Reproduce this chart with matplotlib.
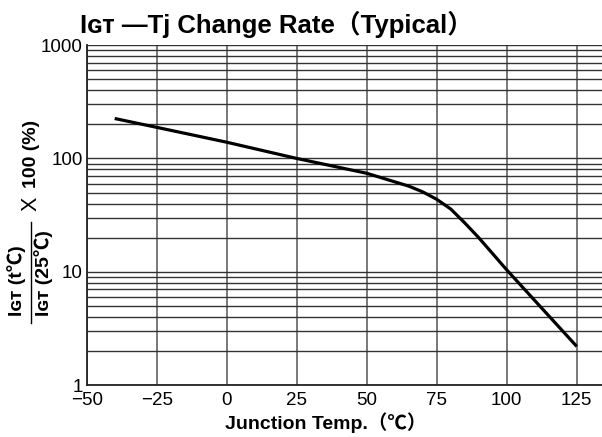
import matplotlib
matplotlib.use("Agg")
import matplotlib.pyplot as plt
from matplotlib.ticker import LogLocator, NullFormatter

plt.rcParams['font.family'] = ['Noto Sans CJK JP', 'DejaVu Sans']
LAT = ['Liberation Sans', 'Noto Sans CJK JP', 'DejaVu Sans']

temps = [-40, -25, 0, 25, 50, 65, 70, 75, 80, 85, 90, 100, 125]
rate = [225, 188, 139, 100, 74, 57, 50.7, 43.6, 35.8, 27, 20, 10.4, 2.2]
xticks = [-50, -25, 0, 25, 50, 75, 100, 125]
xtick_labels = ["−50", "−25", "0", "25", "50", "75", "100", "125"]
yticks = [1, 10, 100, 1000]
ytick_labels = ["1", "10", "100", "1000"]

fig = plt.figure(figsize=(6.02, 4.37), dpi=100)
ax = fig.add_axes([0.144, 0.1183, 0.856, 0.7787])
ax.set_yscale('log')
ax.set_xlim(-50, 134)
ax.set_ylim(1, 1000)

ax.set_xticks(xticks)
ax.set_xticklabels(xtick_labels, family=LAT)
ax.set_yticks(yticks)
ax.set_yticklabels(ytick_labels, family=LAT)
ax.yaxis.set_minor_locator(LogLocator(base=10, subs=range(2, 10)))
ax.yaxis.set_minor_formatter(NullFormatter())
ax.tick_params(axis='both', which='both', length=0, labelsize=13.5)
ax.tick_params(axis='x', pad=5)
ax.tick_params(axis='y', pad=3)

ax.grid(True, which='major', axis='x', color='#555555', lw=1.1)
ax.grid(True, which='major', axis='y', color='#333333', lw=1.0)
ax.grid(True, which='minor', axis='y', color='#333333', lw=1.0)
ax.set_axisbelow(True)

for s in ['top', 'right']:
    ax.spines[s].set_visible(False)
for s in ['left', 'bottom']:
    ax.spines[s].set_color('#222222')
    ax.spines[s].set_linewidth(1.3)

ax.plot(temps, rate, color='black', lw=2.3, solid_capstyle='butt', zorder=3)

# title
fig.text(0.133, 0.925, "Iɢᴛ —Tj Change Rate（Typical）", fontsize=18.5,
         fontweight='bold', family=LAT, ha='left', va='baseline')

# x label
fig.text(0.541, 0.01, "Junction Temp.（℃）", fontsize=14, fontweight='bold',
         family=LAT, ha='center', va='bottom')

# y label: fraction
fig.text(0.028, 0.277, "Iɢᴛ (t℃)", rotation=90, fontsize=14, fontweight='bold',
         family=LAT, ha='center', va='bottom')
fig.text(0.072, 0.277, "Iɢᴛ (25℃)", rotation=90, fontsize=14, fontweight='bold',
         family=LAT, ha='center', va='bottom')
fig.add_artist(plt.Line2D([0.051, 0.051], [0.261, 0.492], transform=fig.transFigure,
                          color='black', lw=1.0))
fig.text(0.052, 0.517, "X", rotation=90, fontsize=15.5, fontweight='normal',
         family=LAT, ha='center', va='bottom')
fig.text(0.052, 0.569, "100 (%)", rotation=90, fontsize=14, fontweight='bold',
         family=LAT, ha='center', va='bottom')

fig.savefig("out.png", dpi=100)
